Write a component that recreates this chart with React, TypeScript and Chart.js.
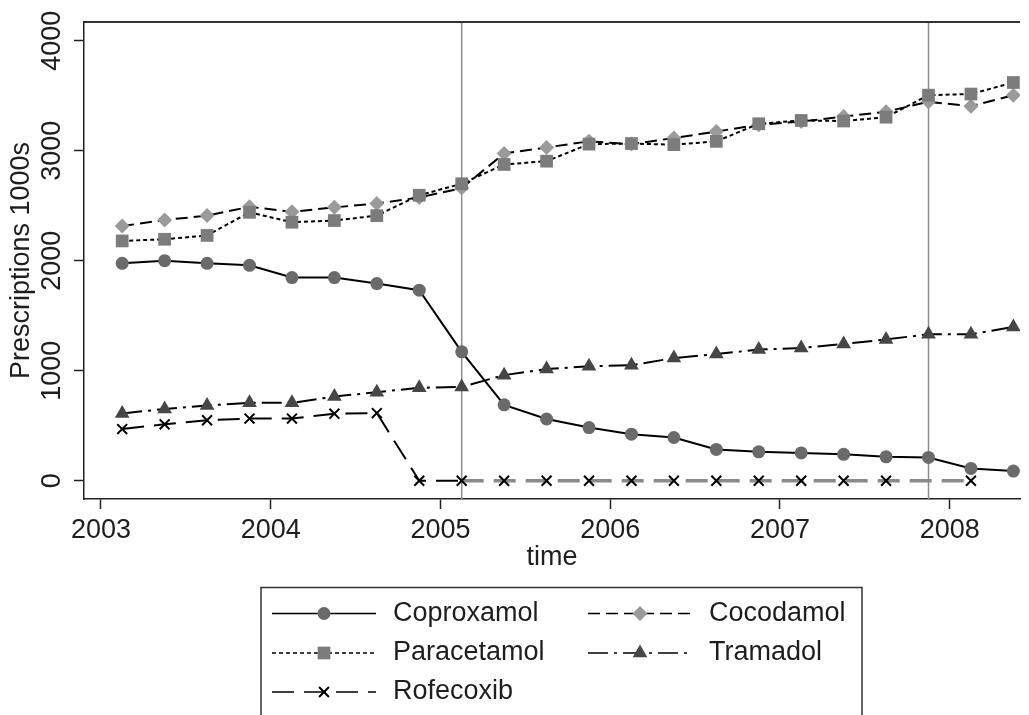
import React, { useEffect, useRef } from 'react';
import { Chart, registerables } from 'chart.js';
import { drawPoint } from 'chart.js/helpers';

Chart.register(...registerables);

// ---- data ----
const times = [
  2003.125, 2003.375, 2003.625, 2003.875, 2004.125, 2004.375, 2004.625, 2004.875,
  2005.125, 2005.375, 2005.625, 2005.875, 2006.125, 2006.375, 2006.625, 2006.875,
  2007.125, 2007.375, 2007.625, 2007.875, 2008.125, 2008.375,
];
const coproxamol = [1976, 2000, 1976, 1958, 1847, 1847, 1792, 1732, 1172, 690, 561, 483, 423, 393, 285, 263, 253, 240, 217, 212, 112, 88];
const cocodamol = [2315, 2370, 2410, 2490, 2445, 2485, 2520, 2575, 2660, 2975, 3030, 3085, 3060, 3115, 3175, 3235, 3265, 3310, 3355, 3445, 3405, 3505];
const paracetamol = [2180, 2195, 2230, 2440, 2350, 2365, 2410, 2595, 2700, 2875, 2905, 3060, 3065, 3055, 3085, 3245, 3275, 3270, 3305, 3505, 3515, 3620];
const tramadol = [612, 652, 684, 708, 708, 765, 805, 845, 852, 960, 1015, 1040, 1050, 1115, 1152, 1192, 1206, 1244, 1284, 1332, 1332, 1398];
const rofecoxib = [470, 513, 550, 565, 565, 610, 615, 0, 0, 0, 0, 0, 0, 0, 0, 0, 0, 0, 0, null, 0, null];

const xTicks = [2003, 2004, 2005, 2006, 2007, 2008];
const yTicks = [0, 1000, 2000, 3000, 4000];
const refLines = [2005.125, 2007.875];
const xMin = 2002.9;
const xMax = 2008.414;
const yMin = -166;
const yMax = 4170;

const FONT_FAMILY = "'Liberation Sans', Arial, Helvetica, sans-serif";
const TEXT = '#1e1e1e';
const AXIS = '#222';

const toPts = (ys: (number | null)[]) => times.map((t, i) => ({ x: t, y: ys[i] }));

const refLinePlugin = {
  id: 'refLines',
  beforeDatasetsDraw(chart: any) {
    const { ctx, chartArea } = chart;
    const xs = chart.scales.x;
    ctx.save();
    ctx.strokeStyle = '#8c8c8c';
    ctx.lineWidth = 1.5;
    refLines.forEach((v) => {
      const px = xs.getPixelForValue(v);
      ctx.beginPath();
      ctx.moveTo(px, chartArea.top);
      ctx.lineTo(px, chartArea.bottom);
      ctx.stroke();
    });
    // top outline of plot region
    ctx.strokeStyle = '#333';
    ctx.lineWidth = 2;
    ctx.beginPath();
    ctx.moveTo(chartArea.left, chartArea.top);
    ctx.lineTo(chartArea.right, chartArea.top);
    ctx.stroke();
    ctx.restore();
  },
};

const legendPlugin = {
  id: 'boxLegend',
  afterDraw(chart: any) {
    const { ctx } = chart;
    const box = { left: 261, top: 587.5, right: 862, bottom: 740 };
    const cols = [272, 588];
    const rows = [613.5, 653, 692];
    const lineLen = 104;
    const gap = 17;
    ctx.save();
    ctx.strokeStyle = '#333';
    ctx.lineWidth = 1.5;
    ctx.setLineDash([]);
    ctx.strokeRect(box.left, box.top, box.right - box.left, box.bottom - box.top);
    ctx.font = `27px ${FONT_FAMILY}`;
    ctx.textBaseline = 'middle';
    ctx.textAlign = 'left';
    chart.data.datasets.forEach((ds: any, i: number) => {
      const x0 = cols[i % 2];
      const y = rows[Math.floor(i / 2)];
      ctx.save();
      ctx.strokeStyle = '#000';
      ctx.lineWidth = 1.6;
      ctx.setLineDash(ds.borderDash || []);
      ctx.beginPath();
      ctx.moveTo(x0, y);
      ctx.lineTo(x0 + lineLen, y);
      ctx.stroke();
      ctx.setLineDash([]);
      ctx.fillStyle = ds.pointBackgroundColor;
      ctx.strokeStyle = ds.pointBorderColor;
      ctx.lineWidth = ds.pointBorderWidth;
      drawPoint(ctx, { pointStyle: ds.pointStyle, radius: ds.pointRadius, borderWidth: ds.pointBorderWidth, rotation: 0 } as any, x0 + lineLen / 2, y);
      ctx.restore();
      ctx.fillStyle = TEXT;
      ctx.fillText(ds.label, x0 + lineLen + gap, y);
    });
    ctx.restore();
  },
};

export default function App() {
  const ref = useRef<HTMLCanvasElement | null>(null);

  useEffect(() => {
    if (!ref.current) return;
    const font = { family: FONT_FAMILY, size: 27 };
    const axisCommon = {
      grid: { display: true, drawOnChartArea: false, drawTicks: true, tickLength: 10, tickWidth: 1.5, tickColor: AXIS },
      border: { display: true, color: AXIS, width: 1.5 },
    };
    const chart = new Chart(ref.current, {
      type: 'line',
      data: {
        datasets: [
          {
            label: 'Coproxamol', data: toPts(coproxamol), borderColor: '#000', borderWidth: 2, borderDash: [],
            pointStyle: 'circle', pointRadius: 6.5, pointBackgroundColor: '#6a6a6a', pointBorderColor: '#6a6a6a', pointBorderWidth: 0, order: 5,
          },
          {
            label: 'Cocodamol', data: toPts(cocodamol), borderColor: '#000', borderWidth: 2, borderDash: [12, 6],
            pointStyle: 'rectRot', pointRadius: 7.5, pointBackgroundColor: '#9a9a9a', pointBorderColor: '#9a9a9a', pointBorderWidth: 0, order: 4,
          },
          {
            label: 'Paracetamol', data: toPts(paracetamol), borderColor: '#000', borderWidth: 2, borderDash: [4, 3],
            pointStyle: 'rect', pointRadius: 9, pointBackgroundColor: '#7c7c7c', pointBorderColor: '#7c7c7c', pointBorderWidth: 0, order: 3,
          },
          {
            label: 'Tramadol', data: toPts(tramadol), borderColor: '#000', borderWidth: 2, borderDash: [20, 6, 3, 6],
            pointStyle: 'triangle', pointRadius: 8.5, pointBackgroundColor: '#464646', pointBorderColor: '#464646', pointBorderWidth: 0, order: 2,
          },
          {
            label: 'Rofecoxib', data: toPts(rofecoxib), borderColor: '#000', borderWidth: 2, borderDash: [22, 10],
            pointStyle: 'crossRot', pointRadius: 7, pointBackgroundColor: '#000', pointBorderColor: '#000', pointBorderWidth: 2, order: 1,
            spanGaps: true,
            segment: {
              borderColor: (c: any) => (c.p0.parsed.x >= refLines[0] ? '#8a8a8a' : '#000'),
              borderWidth: (c: any) => (c.p0.parsed.x >= refLines[0] ? 3.5 : 2),
            },
          },
        ] as any,
      },
      options: {
        animation: false,
        responsive: false,
        devicePixelRatio: 1,
        layout: { padding: { top: 22, right: 0, bottom: 140.8, left: 0 } },
        plugins: { legend: { display: false }, tooltip: { enabled: false } },
        elements: { line: { tension: 0 } },
        scales: {
          x: {
            type: 'linear', min: xMin, max: xMax,
            ...axisCommon,
            afterBuildTicks: (s: any) => { s.ticks = xTicks.map((v) => ({ value: v })); },
            afterFit: (s: any) => { s.height = 75.2; },
            ticks: { font, color: TEXT, padding: 5, minRotation: 0, maxRotation: 0, autoSkip: false, callback: (v: any) => String(v) },
            title: { display: true, text: 'time', font, color: TEXT, padding: 0 },
          },
          y: {
            type: 'linear', min: yMin, max: yMax,
            ...axisCommon,
            afterBuildTicks: (s: any) => { s.ticks = yTicks.map((v) => ({ value: v })); },
            afterFit: (s: any) => { s.width = 84; },
            ticks: { font, color: TEXT, minRotation: 90, maxRotation: 90, crossAlign: 'center', padding: -8.6, callback: (v: any) => String(v) },
            title: { display: true, text: 'Prescriptions 1000s', font, color: TEXT, padding: { top: 5, bottom: 0 } },
          },
        },
      } as any,
      plugins: [refLinePlugin, legendPlugin],
    });
    return () => chart.destroy();
  }, []);

  return (
    <div style={{ position: 'fixed', left: 0, top: 0, width: 1029, height: 715, background: '#fff' }}>
      <canvas ref={ref} width={1029} height={715} style={{ display: 'block' }} />
    </div>
  );
}
